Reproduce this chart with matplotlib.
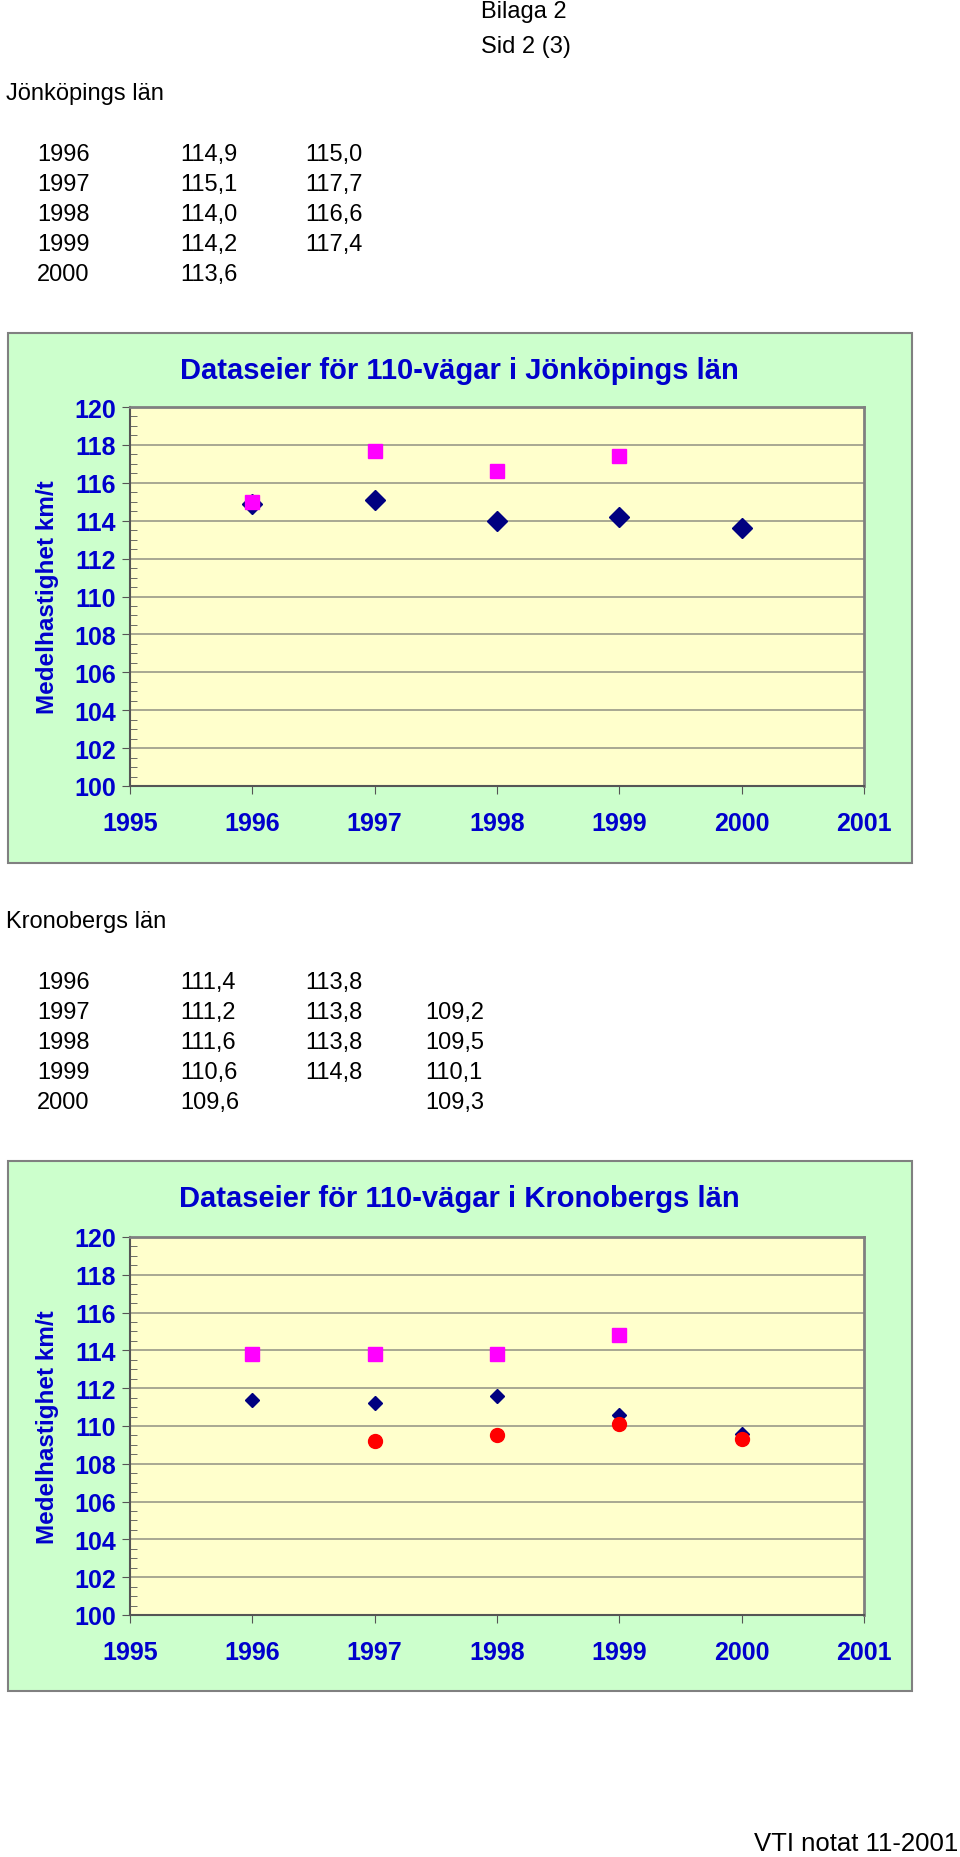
import matplotlib
matplotlib.use('Agg')
import matplotlib.pyplot as plt
from matplotlib.patches import Rectangle
from matplotlib.ticker import MultipleLocator

plt.rcParams['font.family'] = ['Liberation Sans', 'DejaVu Sans']

# data
years = [1996, 1997, 1998, 1999, 2000]

jkp_s1 = [114.9, 115.1, 114.0, 114.2, 113.6]
jkp_s2 = [115.0, 117.7, 116.6, 117.4, None]

kro_s1 = [111.4, 111.2, 111.6, 110.6, 109.6]
kro_s2 = [113.8, 113.8, 113.8, 114.8, None]
kro_s3 = [None, 109.2, 109.5, 110.1, 109.3]

xticks = [1995, 1996, 1997, 1998, 1999, 2000, 2001]
yticks = [100, 102, 104, 106, 108, 110, 112, 114, 116, 118, 120]


def fmt(v):
    return '' if v is None else ('%.1f' % v).replace('.', ',')


W, H = 960, 1858
fig = plt.figure(figsize=(W / 100, H / 100), dpi=100)

def fx(px):
    return px / W

def fy(py):
    return 1 - py / H

BLUE = '#0000CC'

fig.text(fx(481), fy(12), 'Bilaga 2', fontsize=17, va='center')
fig.text(fx(481), fy(47), 'Sid 2 (3)', fontsize=17, va='center')
fig.text(fx(958), fy(1844), 'VTI notat 11-2001', fontsize=18.5, va='center', ha='right')


def table(title, ty, rows_y, cols):
    fig.text(fx(6), fy(ty), title, fontsize=17, va='center')
    colx = [37, 180, 305, 425]
    for i, y in enumerate(years):
        fig.text(fx(colx[0]), fy(rows_y[i]), str(y), fontsize=17, va='center')
        for j, c in enumerate(cols):
            fig.text(fx(colx[j + 1]), fy(rows_y[i]), fmt(c[i]), fontsize=17, va='center')


def chart(box_top, box_bot, plot_top, plot_bot, title_y, title, series, dsize):
    # green frame behind the axes
    fig.patches.append(Rectangle((fx(8), fy(box_bot)), fx(912 - 8), (box_bot - box_top) / H,
                                 transform=fig.transFigure, facecolor='#CCFFCC',
                                 edgecolor='#808080', lw=1.5, zorder=-5))
    ax = fig.add_axes([fx(130), fy(plot_bot), fx(864 - 130), (plot_bot - plot_top) / H])
    ax.set_facecolor('#FFFFCC')
    ax.set_xlim(1995, 2001)
    ax.set_ylim(100, 120)
    ax.set_xticks(xticks)
    ax.set_yticks(yticks)
    ax.yaxis.set_minor_locator(MultipleLocator(0.5))
    ax.tick_params(axis='y', which='major', direction='out', length=6, color='#555555',
                   labelsize=18, labelcolor=BLUE, pad=4)
    ax.tick_params(axis='y', which='minor', direction='in', length=5, color='#555555')
    ax.tick_params(axis='x', which='major', direction='out', length=6, color='#555555',
                   labelsize=18, labelcolor=BLUE, pad=12)
    for lab in ax.get_xticklabels() + ax.get_yticklabels():
        lab.set_fontweight('bold')
    ax.grid(axis='y', color='#999988', lw=1.2)
    ax.set_axisbelow(True)
    for s in ['left', 'bottom']:
        ax.spines[s].set_color('#555555')
        ax.spines[s].set_linewidth(1.5)
    for s in ['top', 'right']:
        ax.spines[s].set_color('#808080')
        ax.spines[s].set_linewidth(2)
    ax.set_ylabel('Medelhastighet km/t', fontsize=17.5, fontweight='bold', color=BLUE,
                  va='center')
    ax.yaxis.set_label_coords((47 - 130) / (864 - 130), 0.5)
    fig.text(fx(459), fy(title_y), title, fontsize=21, fontweight='bold',
             color=BLUE, ha='center', va='center')
    styles = [dict(marker='D', color='#000080', ms=dsize),
              dict(marker='s', color='#FF00FF', ms=9.5),
              dict(marker='o', color='#FF0000', ms=10)]
    for vals, st in zip(series, styles):
        xs = [y for y, v in zip(years, vals) if v is not None]
        ys = [v for v in vals if v is not None]
        ax.plot(xs, ys, ls='none', marker=st['marker'], color=st['color'],
                ms=st['ms'], mec=st['color'], clip_on=False, zorder=3)
    return ax


table('Jönköpings län', 94, [155, 185, 215, 245, 275], [jkp_s1, jkp_s2])
chart(334, 864, 408, 787, 371, 'Dataseier för 110-vägar i Jönköpings län',
      [jkp_s1, jkp_s2], 10)

table('Kronobergs län', 922, [983, 1013, 1043, 1073, 1103], [kro_s1, kro_s2, kro_s3])
chart(1162, 1692, 1238, 1616, 1199, 'Dataseier för 110-vägar i Kronobergs län',
      [kro_s1, kro_s2, kro_s3], 7.5)

fig.savefig('out.png', dpi=100)
